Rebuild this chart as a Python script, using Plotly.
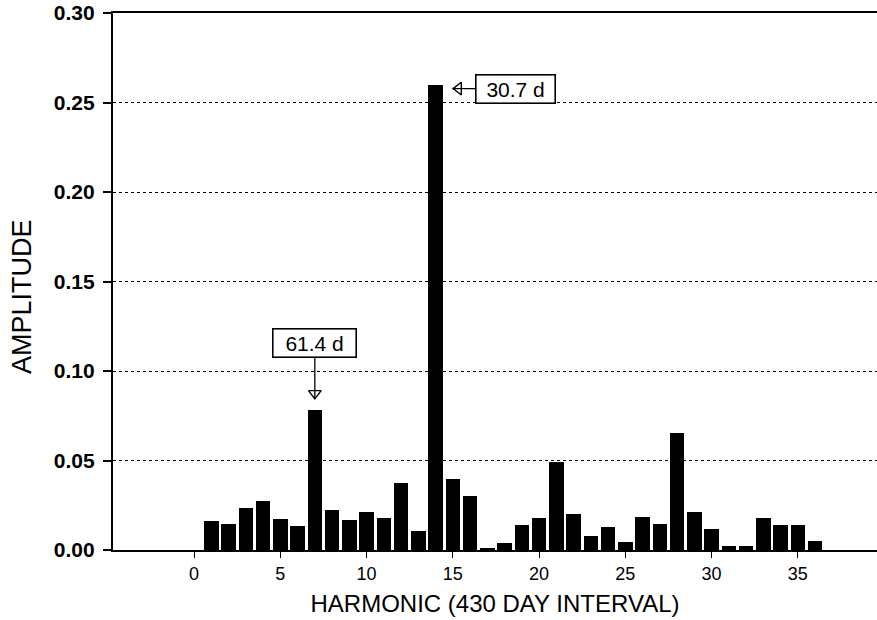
import plotly.graph_objects as go

# Harmonic amplitude spectrum over a 430-day interval
harmonics = list(range(1, 37))
amplitude = [
    0.0163, 0.0143, 0.0233, 0.0276, 0.0172, 0.0135, 0.078, 0.0226, 0.0168,
    0.0215, 0.0177, 0.0376, 0.0106, 0.260, 0.0395, 0.0303, 0.0010, 0.0041,
    0.0140, 0.0179, 0.0490, 0.0200, 0.0080, 0.0130, 0.0043, 0.0184, 0.0144,
    0.0654, 0.0214, 0.0119, 0.0024, 0.0024, 0.0177, 0.0138, 0.0142, 0.0052,
]
x_ticks = [0, 5, 10, 15, 20, 25, 30, 35]
y_ticks = [0.00, 0.05, 0.10, 0.15, 0.20, 0.25, 0.30]

# labelled peaks: harmonic number -> period text
peak_labels = {7: "61.4 d", 14: "30.7 d"}

W, H = 877, 620
M = dict(l=113, r=0, t=13, b=70)
x_range = [-4.70, 39.59]
y_range = [0.0, 0.30]
plot_w = W - M["l"] - M["r"]
plot_h = H - M["t"] - M["b"]
px_per_x = plot_w / (x_range[1] - x_range[0])
px_per_y = plot_h / (y_range[1] - y_range[0])

FONT = "Liberation Sans, Arial, Helvetica, sans-serif"
BOX = dict(font=dict(family=FONT, size=21, color="black"),
           bgcolor="white", bordercolor="black", borderwidth=1.6, borderpad=2)

fig = go.Figure()
fig.add_trace(go.Bar(
    x=harmonics, y=amplitude, width=0.84,
    marker=dict(color="black", line=dict(width=0)),
    hoverinfo="x+y", showlegend=False,
))

amp = dict(zip(harmonics, amplitude))

# 61.4 d: label above harmonic 7 with a downward open arrow
h1 = 7
fig.add_annotation(
    x=h1, y=amp[h1], xref="x", yref="y", text=peak_labels[h1],
    showarrow=True, arrowhead=0, arrowwidth=1.3, arrowcolor="black",
    ax=0, ay=-67, standoff=12, width=78, **BOX,
)
# 30.7 d: label to the right of harmonic 14 with a leftward open arrow
h2 = 14
fig.add_annotation(
    x=h2, y=amp[h2], xref="x", yref="y", text=peak_labels[h2],
    showarrow=True, arrowhead=0, arrowwidth=1.3, arrowcolor="black",
    ax=80, ay=0, yshift=-4, standoff=17, width=74, **BOX,
)

# open triangle arrow heads
fig.add_trace(go.Scatter(
    x=[h1], y=[amp[h1] + 17 / px_per_y], mode="markers",
    marker=dict(symbol="triangle-down-open", size=11, color="black",
                line=dict(width=1.4)),
    hoverinfo="skip", showlegend=False,
))
fig.add_trace(go.Scatter(
    x=[h2 + 23 / px_per_x], y=[amp[h2] - 4 / px_per_y], mode="markers",
    marker=dict(symbol="triangle-left-open", size=11, color="black",
                line=dict(width=1.4)),
    hoverinfo="skip", showlegend=False,
))

# vertical axis title, placed a little below the middle of the axis
title_x_px, title_y_px = 22, 297
fig.add_annotation(
    text="AMPLITUDE", textangle=-90, showarrow=False,
    xref="paper", yref="paper",
    x=(title_x_px - M["l"]) / plot_w,
    y=(H - M["b"] - title_y_px) / plot_h,
    xanchor="center", yanchor="middle",
    font=dict(family=FONT, size=27, color="black"),
)

fig.update_layout(
    width=W, height=H, margin=M,
    paper_bgcolor="white", plot_bgcolor="white",
    font=dict(family=FONT, color="black"),
    bargap=0,
    xaxis=dict(
        range=x_range, tickvals=x_ticks, ticktext=[str(v) for v in x_ticks],
        showline=True, linecolor="black", linewidth=1.8, mirror=True,
        ticks="outside", ticklen=6, tickwidth=1.3, tickcolor="black",
        showgrid=False, zeroline=False,
        tickfont=dict(family=FONT, size=18, color="black"),
        title=dict(text="HARMONIC (430 DAY INTERVAL)",
                   font=dict(family=FONT, size=24, color="black"), standoff=13),
    ),
    yaxis=dict(
        range=y_range, tickvals=y_ticks,
        ticktext=[f"<b>{v:.2f}</b>" for v in y_ticks],
        showline=True, linecolor="black", linewidth=2.2,
        ticks="outside", ticklen=8, tickwidth=1.5, tickcolor="black",
        ticklabelstandoff=4,
        showgrid=True, gridcolor="black", gridwidth=0.9, griddash="dot",
        zeroline=False,
        tickfont=dict(family=FONT, size=21, color="black"),
    ),
)

fig.write_html("out.html")
